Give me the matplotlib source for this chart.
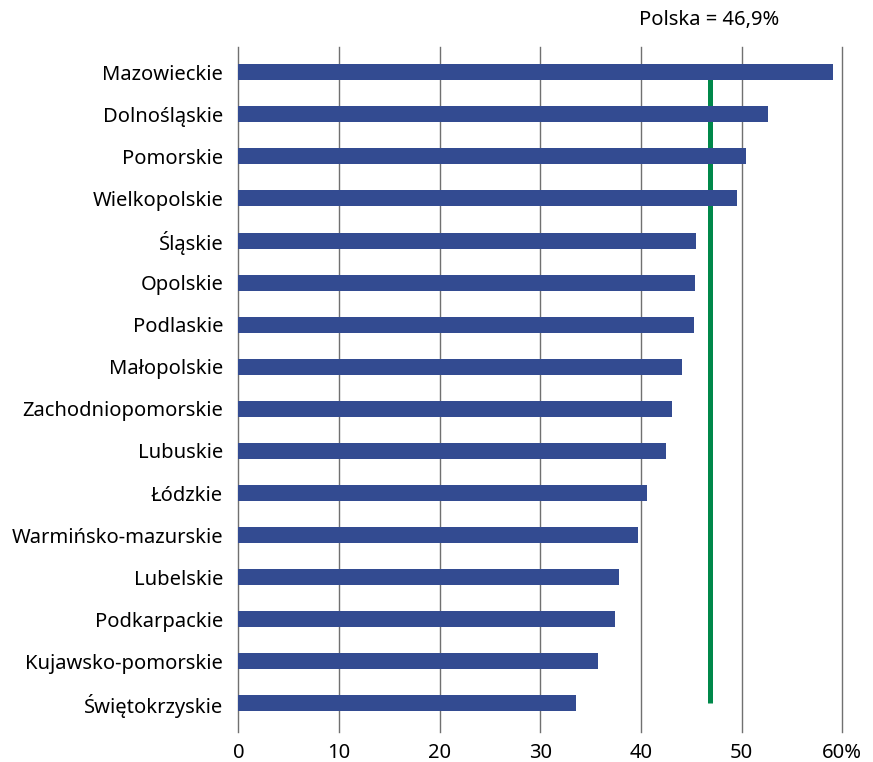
import matplotlib
matplotlib.use("Agg")
import matplotlib.pyplot as plt

regions = ["Mazowieckie", "Dolnośląskie", "Pomorskie", "Wielkopolskie", "Śląskie",
           "Opolskie", "Podlaskie", "Małopolskie", "Zachodniopomorskie", "Lubuskie",
           "Łódzkie", "Warmińsko-mazurskie", "Lubelskie", "Podkarpackie",
           "Kujawsko-pomorskie", "Świętokrzyskie"]
values = [59.1, 52.6, 50.4, 49.5, 45.5, 45.4, 45.3, 44.1, 43.1, 42.5,
          40.6, 39.7, 37.8, 37.4, 35.7, 33.5]
polska = 46.9
polska_label = "Polska = 46,9%"
xticks = [0, 10, 20, 30, 40, 50, 60]
xtick_labels = ["0", "10", "20", "30", "40", "50", "60%"]

plt.rcParams['font.family'] = ['Noto Sans', 'DejaVu Sans']
FS = 14.5

fig = plt.figure(figsize=(8.73, 7.62), dpi=100)
ax = fig.add_axes([238.5/873, 1-732/762, (842.3-238.5)/873, (732-47)/762])

n = len(regions)
ys = list(range(n))
ax.barh(ys, values, height=0.38, color="#334B91", zorder=3)
ax.plot([polska, polska], [0, n-1], color="#00884A", lw=3.6, zorder=2, solid_capstyle='butt')

ax.set_xlim(0, 60)
ax.set_ylim(n-1+0.68, -0.6)
ax.set_xticks(xticks)
ax.set_xticklabels(xtick_labels, fontsize=FS)
ax.set_yticks(ys)
ax.set_yticklabels(regions, fontsize=FS)
ax.tick_params(axis='both', length=0)
ax.tick_params(axis='y', pad=11)
ax.tick_params(axis='x', pad=8)
for x in xticks:
    ax.axvline(x, color="#707070", lw=1, zorder=1, clip_on=False)
for s in ax.spines.values():
    s.set_visible(False)

fig.text(709/873, 1-20/762, polska_label, ha='center', va='center', fontsize=FS)

fig.savefig("out.png", dpi=100)
